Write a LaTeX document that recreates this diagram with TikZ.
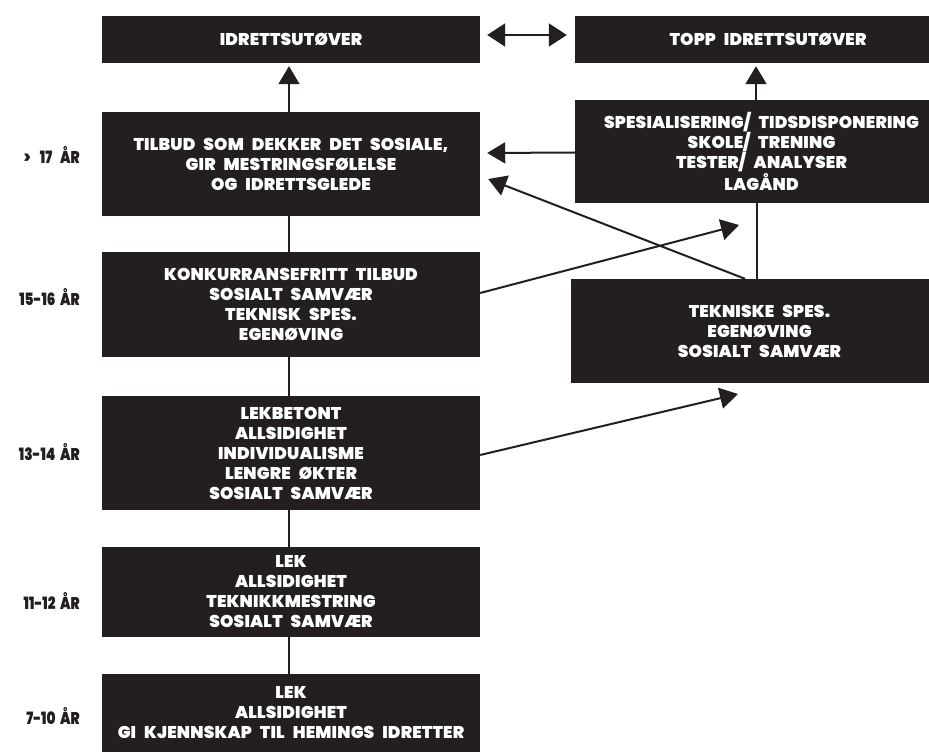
\documentclass[tikz,border=0pt]{standalone}
\usepackage{fontspec}
\setmainfont{Poppins}
\newfontfamily\boxfont{Poppins Black}[LetterSpace=1, WordSpace=2.6]
\newfontfamily\agefont{Poppins Black}[Numbers=Monospaced, WordSpace=2]
\newcommand\agetxt[1]{\scalebox{0.8}[1]{#1}}
\usetikzlibrary{arrows.meta,calc}
\definecolor{ink}{HTML}{231F20}
\tikzset{
  box/.style={fill=ink, text=white, font=\boxfont\fontsize{17}{20}\selectfont,
    align=center, inner sep=0pt, minimum width=378pt},
  rbox/.style={box, minimum width=373pt},
  lbl/.style={text=ink, font=\agefont\fontsize{17}{20}\selectfont, anchor=east, inner sep=0pt},
  arr/.style={draw=ink, line width=2pt, -{Triangle[length=18pt,width=21pt]}},
  dblarr/.style={draw=ink, line width=2pt, {Triangle[length=18pt,width=23pt]}-{Triangle[length=18pt,width=23pt]}},
  link/.style={draw=ink, line width=1.4pt}
}
\begin{document}
\begin{tikzpicture}[x=1pt,y=-1pt]
\useasboundingbox[fill=white] (0,0) rectangle (929,754);
% left column
\node[box, minimum height=47pt] (idr) at (291,39.5) {IDRETTSUTØVER};
\node[box, minimum height=104pt] (tilbud) at (291,164) {TILBUD SOM DEKKER DET SOSIALE,\\GIR MESTRINGSFØLELSE\\OG IDRETTSGLEDE};
\node[box, minimum height=105pt] (konk) at (291,304.5) {KONKURRANSEFRITT TILBUD\\SOSIALT SAMVÆR\\TEKNISK SPES.\\EGENØVING};
\node[box, minimum height=114pt] (lekb) at (291,453) {LEKBETONT\\ALLSIDIGHET\\INDIVIDUALISME\\LENGRE ØKTER\\SOSIALT SAMVÆR};
\node[box, minimum height=90pt] (lek) at (291,592) {LEK\\ALLSIDIGHET\\TEKNIKKMESTRING\\SOSIALT SAMVÆR};
\node[box, minimum height=78pt] (lek2) at (291,713) {LEK\\ALLSIDIGHET\\GI KJENNSKAP TIL HEMINGS IDRETTER};
% right column
\node[box, minimum width=386pt, minimum height=47pt] (topp) at (768,39.5) {TOPP IDRETTSUTØVER};
\node[rbox, minimum height=103pt] (spes) at (761.5,151.5) {SPESIALISERING/ TIDSDISPONERING\\SKOLE/ TRENING\\TESTER/ ANALYSER\\LAGÅND};
\node[box, minimum width=377pt, minimum height=104pt] (tek) at (759.5,331) {TEKNISKE SPES.\\EGENØVING\\SOSIALT SAMVÆR};
% age labels
\node[lbl] (a1) at (80,155) {\agetxt{>\hspace{6pt} 17\hspace{4pt} ÅR}};
\node[lbl] (a2) at (80,297) {\agetxt{15-16 ÅR}};
\node[lbl] (a3) at (80,452) {\agetxt{13-14 ÅR}};
\node[lbl] (a4) at (80,601) {\agetxt{11-12 ÅR}};
\node[lbl] (a5) at (80,716) {\agetxt{7-10 ÅR}};
% vertical links
\draw[link] ($(tilbud.south)+(-2,0)$) -- ($(konk.north)+(-2,0)$);
\draw[link] ($(konk.south)+(-2,0)$) -- ($(lekb.north)+(-2,0)$);
\draw[link] ($(lekb.south)+(-2,0)$) -- ($(lek.north)+(-2,0)$);
\draw[link] ($(lek.south)+(-2,0)$) -- ($(lek2.north)+(-2,0)$);
\draw[link] ($(spes.south)+(-4.5,0)$) -- ($(tek.north)+(-2.5,0)$);
% arrows
\draw[dblarr] ($(idr.east)+(7,-4.5)$) -- ($(topp.west)+(-8,-4.5)$);
\draw[arr] ($(tilbud.north)+(-2,0)$) -- ($(idr.south)+(-2,3)$);
\draw[arr] ($(spes.north)+(-5.5,0)$) -- ($(spes.north |- topp.south)+(-5.5,3)$);
\draw[arr] ($(spes.west)+(0,1)$) -- ($(tilbud.east)+(7,-11)$);
\draw[arr] ($(tek.north)+(-14.5,0)$) -- ($(tilbud.east)+(8,15)$);
\coordinate (k1) at (739,225);
\coordinate (k2) at (738,394);
\draw[arr] ($(konk.east)+(0,-11.5)$) -- (k1);
\draw[arr] ($(lekb.east)+(0,2)$) -- (k2);
\end{tikzpicture}
\end{document}
